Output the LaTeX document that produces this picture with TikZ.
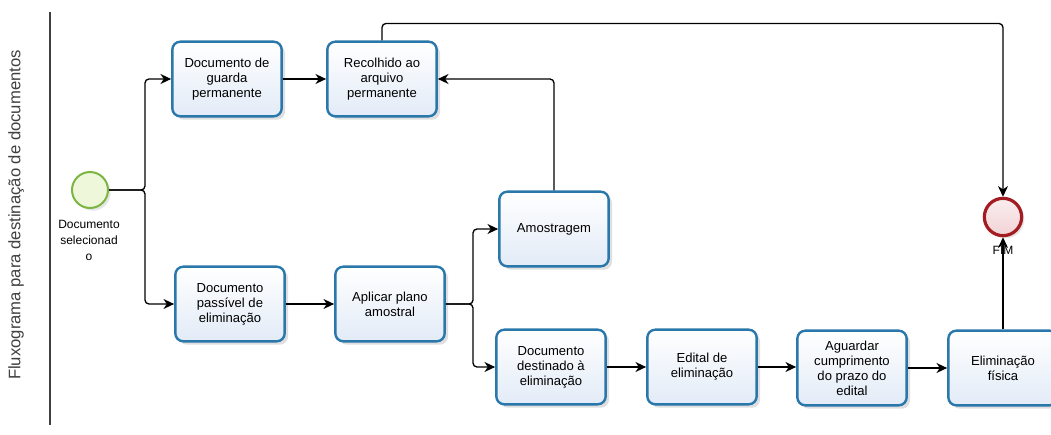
\documentclass[tikz,border=0pt]{standalone}
\usepackage{fontspec}
\setmainfont{Liberation Sans}
\usetikzlibrary{arrows.meta,shadows,calc}
\definecolor{boxborder}{HTML}{2A78AB}
\definecolor{boxfill}{HTML}{E2EBF7}
\definecolor{startborder}{HTML}{7DB544}
\definecolor{startfill}{HTML}{EEF7DA}
\definecolor{endborder}{HTML}{A31C22}
\definecolor{endfill}{HTML}{F2D3D6}
\tikzset{
  task/.style={draw=boxborder, line width=1.8pt, rounded corners=6pt,
    top color=white, bottom color=boxfill,
    minimum width=82pt, minimum height=56pt, align=center,
    font=\fontsize{9.8}{11.25}\selectfont,
    drop shadow={opacity=0.25, shadow xshift=2.5pt, shadow yshift=-2.5pt}},
  startev/.style={circle, draw=startborder, line width=1.5pt, fill=startfill,
    minimum size=27pt, inner sep=0pt,
    drop shadow={opacity=0.2, shadow xshift=2pt, shadow yshift=-2pt}},
  endev/.style={circle, draw=endborder, line width=2.4pt, top color=white!60!endfill, bottom color=endfill,
    minimum size=28pt, inner sep=0pt,
    drop shadow={opacity=0.2, shadow xshift=2pt, shadow yshift=-2pt}},
  evlabel/.style={align=center, font=\fontsize{9}{12}\selectfont},
  flow/.style={line width=1pt, rounded corners=3pt,
    -{Stealth[length=8pt,width=7.5pt,inset=2.5pt]}},
}
\begin{document}
\begin{tikzpicture}[x=0.75pt,y=-0.75pt]
\useasboundingbox (0,0) rectangle (1051,435);
% lane
\coordinate (laneTop) at (50,12);
\coordinate (laneBot) at (50,425);
\draw[line width=1pt, black!75] (laneTop) -- (laneBot);
\node[rotate=90, font=\fontsize{12.5}{14}\selectfont, text=black!75] (title) at (16,215) {Fluxograma para destinação de documentos};

% events
\node[startev] (s) at (90,190) {};
\node[evlabel, anchor=north] (slab) at (89,216) {Documento\\selecionad\\o};
\node[endev] (e) at (1003,217) {};

% tasks
\node[task] (b1) at (227,79) {Documento de\\guarda\\permanente};
\node[task] (b2) at (230,304) {Documento\\passível de\\eliminação};
\node[task] (b3) at (382,79) {Recolhido ao\\arquivo\\permanente};
\node[task] (b4) at (390,304) {Aplicar plano\\amostral};
\node[task] (b5) at (554,229) {Amostragem};
\node[task] (b6) at (551,367) {Documento\\destinado à\\eliminação};
\node[task] (b7) at (702,367) {Edital de\\eliminação};
\node[task] (b8) at (852,368) {Aguardar\\cumprimento\\do prazo do\\edital};
\node[task] (b9) at (1003,368) {Eliminação\\física};

% junctions
\coordinate (j1) at (145,190);
\coordinate (j2) at (473,304);

% connectors
\draw[flow] (s.east) -- (j1) |- (b1.west);
\draw[flow] (s.east) -- (j1) |- (b2.west);
\draw[flow] (b1.east) -- (b3.west);
\draw[flow] (b2.east) -- (b4.west);
\draw[flow] (b4.east) -- (j2) |- (b5.west);
\draw[flow] (b4.east) -- (j2) |- (b6.west);
\draw[flow] (b5.north) |- (b3.east);
\draw[flow] (b3.north) -- ++(0,-17) -| (e.north);
\draw[flow] (b6.east) -- (b7.west);
\draw[flow] (b7.east) -- (b8.west |- b7.east);
\draw[flow] (b8.east) -- (b9.west);
\draw[flow] (b9.north) -- (e.south);

\node[evlabel] (elab) at (1003,250) {FIM};
\end{tikzpicture}
\end{document}
